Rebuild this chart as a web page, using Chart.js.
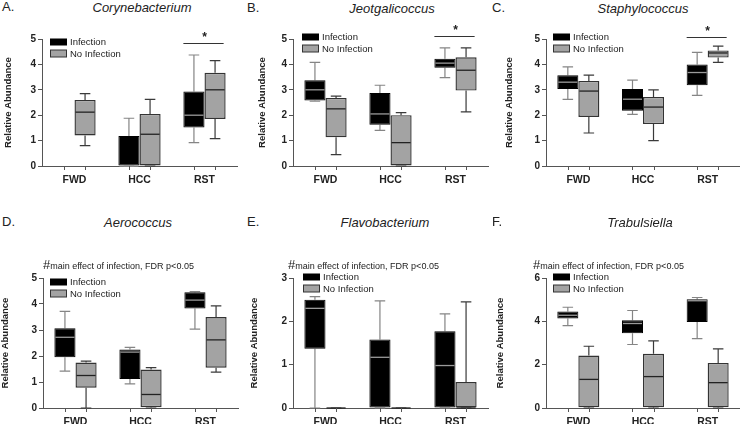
<!DOCTYPE html>
<html>
<head>
<meta charset="utf-8">
<script src="https://cdn.jsdelivr.net/npm/chart.js@4.4.0/dist/chart.umd.min.js"></script>
<style>
  body { margin: 0; background: #fff; }
  #page { position: relative; width: 740px; height: 424px; overflow: hidden; font-family: "Liberation Sans", Arial, sans-serif; color: #222; }
  #page canvas { position: absolute; }
  .letter { position: absolute; font-size: 13px; line-height: 14px; }
  .title { position: absolute; font-size: 13px; font-style: italic; transform: translate(-50%, -50%); white-space: nowrap; }
  .note { position: absolute; transform: translateY(-50%); white-space: nowrap; font-size: 9px; }
  .note b { font-weight: normal; font-size: 13px; }
</style>
</head>
<body>
<div id="page"></div>
<script>
// categories and series
const categories = ['FWD', 'HCC', 'RST'];
const seriesNames = ['Infection', 'No Infection'];

// box stats per category: [min, q1, median, q3, max]
const coryInf = [null, [0, 0, 0, 1.18, 1.88], [0.92, 1.52, 2.0, 2.93, 4.37]];
const coryNo = [[0.8, 1.2, 2.12, 2.6, 2.85], [0, 0, 1.25, 2.05, 2.62], [1.08, 1.85, 3.0, 3.67, 4.15]];

const jeotInf = [[2.55, 2.58, 3.0, 3.38, 4.08], [1.4, 1.62, 2.05, 2.87, 3.18], [3.48, 3.87, 4.05, 4.22, 4.65]];
const jeotNo = [[0.45, 1.13, 2.25, 2.68, 2.75], [0, 0, 0.92, 2.0, 2.1], [2.13, 2.97, 3.77, 4.28, 4.65]];

const staphInf = [[2.62, 3.03, 3.3, 3.57, 3.9], [2.03, 2.18, 2.63, 3.03, 3.38], [2.78, 3.18, 3.68, 4.0, 4.47]];
const staphNo = [[1.3, 1.93, 2.95, 3.35, 3.58], [1.0, 1.65, 2.32, 2.72, 3.0], [4.08, 4.27, 4.45, 4.55, 4.72]];

const aeroInf = [[1.42, 1.95, 2.72, 3.07, 3.72], [0.93, 1.12, 2.15, 2.25, 2.33], [3.03, 3.83, 4.15, 4.45, 4.48]];
const aeroNo = [[0, 0.78, 1.25, 1.75, 1.8], [0, 0.03, 0.52, 1.48, 1.55], [1.38, 1.55, 2.62, 3.5, 3.93]];

const flavoInf = [[0, 1.37, 2.3, 2.5, 2.57], [0, 0, 1.17, 1.58, 2.47], [0, 0, 0.98, 1.77, 2.17]];
const flavoNo = [[0, 0, 0, 0, 0], [0, 0, 0, 0, 0], [0, 0, 0, 0.6, 2.45]];

const trabInf = [[3.8, 4.13, 4.28, 4.45, 4.65], [2.93, 3.45, 3.9, 4.05, 4.5], [3.2, 3.97, 4.95, 5.02, 5.1]];
const trabNo = [[0, 0.03, 1.32, 2.42, 2.85], [0, 0.03, 1.45, 2.5, 3.1], [0, 0.03, 1.17, 2.08, 2.73]];

const noteText = 'main effect of infection, FDR p<0.05';

const sans = '"Liberation Sans", Arial, sans-serif';

// panel layout
const panels = [
  { letter: 'A.', title: 'Corynebacterium', inf: coryInf, no: coryNo, yMax: 5, step: 1, x: 0, axisX: 42, top: 39, base: 166, titleX: 142, titleY: 7, yTitle: 8, legend: [8, 3], sig: 4.85, note: false },
  { letter: 'B.', title: 'Jeotgalicoccus', inf: jeotInf, no: jeotNo, yMax: 5, step: 1, x: 245, axisX: 293, top: 39, base: 166, titleX: 392, titleY: 8, yTitle: 17, legend: [9, -2], sig: 5.12, note: false },
  { letter: 'C.', title: 'Staphylococcus', inf: staphInf, no: staphNo, yMax: 5, step: 1, x: 490, axisX: 546, top: 39, base: 166, titleX: 643, titleY: 8, yTitle: 19, legend: [7, -2], sig: 5.08, note: false },
  { letter: 'D.', title: 'Aerococcus', inf: aeroInf, no: aeroNo, yMax: 5, step: 1, x: 0, axisX: 43, top: 278, base: 408, titleX: 138, titleY: 222, yTitle: 5, legend: [7, 4], sig: null, note: true },
  { letter: 'E.', title: 'Flavobacterium', inf: flavoInf, no: flavoNo, yMax: 3, step: 1, x: 245, axisX: 293, top: 278, base: 408, titleX: 385, titleY: 222, yTitle: 9, legend: [10, -1], sig: null, note: true },
  { letter: 'F.', title: 'Trabulsiella', inf: trabInf, no: trabNo, yMax: 6, step: 2, x: 490, axisX: 546, top: 278, base: 408, titleX: 640, titleY: 222, yTitle: 10, legend: [7, -1], sig: null, note: true }
];

// whiskers, medians, x ticks, legend and significance bar
const boxPlugin = {
  id: 'boxWhisker',
  beforeDatasetsDraw(chart, args, opts) {
    const ctx = chart.ctx;
    const ys = chart.scales.y;
    ctx.save();
    ctx.lineWidth = 1.2;
    chart.data.datasets.forEach((ds, d) => {
      const meta = chart.getDatasetMeta(d);
      ctx.strokeStyle = opts.whisker[d];
      ds.stats.forEach((st, j) => {
        if (!st) return;
        const el = meta.data[j];
        const cap = el.width / 4;
        ctx.beginPath();
        ctx.moveTo(el.x, ys.getPixelForValue(st[3]));
        ctx.lineTo(el.x, ys.getPixelForValue(st[4]));
        ctx.moveTo(el.x - cap, ys.getPixelForValue(st[4]));
        ctx.lineTo(el.x + cap, ys.getPixelForValue(st[4]));
        ctx.moveTo(el.x, ys.getPixelForValue(st[1]));
        ctx.lineTo(el.x, ys.getPixelForValue(st[0]));
        ctx.moveTo(el.x - cap, ys.getPixelForValue(st[0]));
        ctx.lineTo(el.x + cap, ys.getPixelForValue(st[0]));
        ctx.stroke();
      });
    });
    ctx.restore();
  },
  afterDatasetsDraw(chart, args, opts) {
    const ctx = chart.ctx;
    const ys = chart.scales.y;
    ctx.save();
    ctx.lineWidth = 1.3;
    chart.data.datasets.forEach((ds, d) => {
      const meta = chart.getDatasetMeta(d);
      ctx.strokeStyle = opts.median[d];
      ds.stats.forEach((st, j) => {
        if (!st) return;
        const el = meta.data[j];
        const y = ys.getPixelForValue(st[2]);
        ctx.beginPath();
        ctx.moveTo(el.x - el.width / 2 + 1, y);
        ctx.lineTo(el.x + el.width / 2 - 1, y);
        ctx.stroke();
      });
    });
    ctx.restore();
  },
  afterDraw(chart, args, opts) {
    const ctx = chart.ctx;
    const xs = chart.scales.x;
    const ys = chart.scales.y;
    const area = chart.chartArea;
    const barW = (xs.width / categories.length) * 0.65 / 2;
    ctx.save();
    // x tick marks under each box
    ctx.strokeStyle = '#555';
    ctx.lineWidth = 1;
    categories.forEach((c, j) => {
      const cx = xs.getPixelForValue(j);
      [-barW / 2, barW / 2].forEach(off => {
        ctx.beginPath();
        ctx.moveTo(Math.round(cx + off) + 0.5, area.bottom);
        ctx.lineTo(Math.round(cx + off) + 0.5, area.bottom + 4);
        ctx.stroke();
      });
    });
    // legend
    const lx = area.left + opts.legend[0];
    const ly = area.top + opts.legend[1];
    ctx.font = '9.5px ' + sans;
    ctx.textBaseline = 'middle';
    seriesNames.forEach((name, i) => {
      const y = ly + i * 11.5;
      ctx.fillStyle = i === 0 ? '#000' : '#a3a3a3';
      ctx.fillRect(lx, y - 3.5, 17, 7);
      if (i === 1) {
        ctx.strokeStyle = '#333';
        ctx.strokeRect(lx + 0.5, y - 3.5, 16, 7);
      }
      ctx.fillStyle = '#222';
      ctx.fillText(name, lx + 20, y + 0.5);
    });
    // significance bar over RST
    if (opts.sig !== null) {
      const cx = xs.getPixelForValue(2);
      const y = Math.round(ys.getPixelForValue(opts.sig)) + 0.5;
      ctx.strokeStyle = '#333';
      ctx.beginPath();
      ctx.moveTo(cx - barW, y);
      ctx.lineTo(cx + barW - 2, y);
      ctx.stroke();
      ctx.fillStyle = '#222';
      ctx.font = 'bold 12px ' + sans;
      ctx.textAlign = 'center';
      ctx.fillText('*', cx, y - 6);
    }
    ctx.restore();
  }
};

const page = document.getElementById('page');

panels.forEach(p => {
  const width = p.x === 490 ? 250 : 245;
  const canvasTop = p.top - 22;
  const height = p.base + 26 - canvasTop;

  const canvas = document.createElement('canvas');
  canvas.width = width;
  canvas.height = height;
  canvas.style.left = p.x + 'px';
  canvas.style.top = canvasTop + 'px';
  page.appendChild(canvas);

  const letter = document.createElement('div');
  letter.className = 'letter';
  letter.textContent = p.letter;
  letter.style.left = (p.x + 2) + 'px';
  letter.style.top = (p.titleY - 7) + 'px';
  page.appendChild(letter);

  const title = document.createElement('div');
  title.className = 'title';
  title.textContent = p.title;
  title.style.left = p.titleX + 'px';
  title.style.top = p.titleY + 'px';
  page.appendChild(title);

  if (p.note) {
    const note = document.createElement('div');
    note.className = 'note';
    note.innerHTML = '<b>#</b>' + noteText.replace('<', '&lt;');
    note.style.left = (p.x + 43) + 'px';
    note.style.top = (p.titleY + 42) + 'px';
    page.appendChild(note);
  }

  const yAxisW = p.axisX - p.x;

  new Chart(canvas.getContext('2d'), {
    type: 'bar',
    data: {
      labels: categories,
      datasets: [
        {
          label: seriesNames[0],
          data: p.inf.map(s => s ? [s[1], s[3]] : null),
          stats: p.inf,
          backgroundColor: '#000',
          borderColor: '#000',
          borderWidth: 1,
          borderSkipped: false
        },
        {
          label: seriesNames[1],
          data: p.no.map(s => s ? [s[1], s[3]] : null),
          stats: p.no,
          backgroundColor: '#a3a3a3',
          borderColor: '#333',
          borderWidth: 1.4,
          borderSkipped: false
        }
      ]
    },
    options: {
      responsive: false,
      animation: false,
      events: [],
      layout: {
        padding: { top: p.top - canvasTop, right: Math.max(0, width - yAxisW - 195), left: 0, bottom: 0 }
      },
      datasets: { bar: { categoryPercentage: 0.65, barPercentage: 1 } },
      plugins: {
        legend: { display: false },
        tooltip: { enabled: false },
        boxWhisker: {
          whisker: ['#858585', '#3a3a3a'],
          median: ['#9a9a9a', '#222'],
          legend: p.legend,
          sig: p.sig
        }
      },
      scales: {
        x: {
          grid: { display: false, drawTicks: false },
          border: { color: '#555', width: 1 },
          ticks: { color: '#222', padding: 8, font: { family: sans, size: 10.5, weight: 'bold' } },
          afterFit: s => { s.height = 26; }
        },
        y: {
          min: 0,
          max: p.yMax,
          ticks: { stepSize: p.step, color: '#222', padding: 2, font: { family: sans, size: 10, weight: 'bold' } },
          grid: { drawOnChartArea: false, drawTicks: true, tickLength: 4, color: '#555' },
          border: { color: '#555', width: 1 },
          title: {
            display: true,
            text: 'Relative Abundance',
            color: '#222',
            font: { family: sans, size: 9.5, weight: 'bold' },
            padding: { top: p.yTitle - 5.7, bottom: 0 }
          },
          afterFit: s => { s.width = yAxisW; }
        }
      }
    },
    plugins: [boxPlugin]
  });
});
</script>
</body>
</html>
